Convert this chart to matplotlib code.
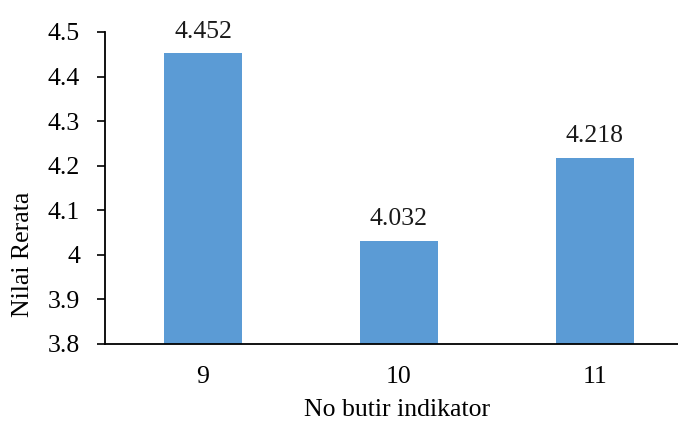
import matplotlib
matplotlib.use("Agg")
import matplotlib.pyplot as plt

categories = ["9", "10", "11"]
values = [4.452, 4.032, 4.218]
value_labels = ["4.452", "4.032", "4.218"]
y_ticks = [3.8, 3.9, 4.0, 4.1, 4.2, 4.3, 4.4, 4.5]
y_tick_labels = ["3.8", "3.9", "4", "4.1", "4.2", "4.3", "4.4", "4.5"]

plt.rcParams["font.family"] = ["Liberation Serif", "DejaVu Serif"]
FS = 18.5

W, H = 678, 425
fig = plt.figure(figsize=(W / 100, H / 100), dpi=100)
left, right, top, bottom = 105, 693, 32, 344
ax = fig.add_axes([left / W, 1 - bottom / H, (right - left) / W, (bottom - top) / H])

x = range(len(categories))
ax.bar(x, [v - 3.8 for v in values], bottom=3.8, width=0.4, color="#5B9BD5", zorder=2)
for xi, v, lab in zip(x, values, value_labels):
    ax.annotate(lab, (xi, v), xytext=(0, 11), textcoords="offset points",
                ha="center", va="baseline", fontsize=FS, color="#1a1a1a")

ax.set_xlim(-0.5, 2.5)
ax.set_ylim(3.8, 4.5)
ax.set_xticks(list(x))
ax.set_xticklabels(categories, fontsize=FS)
ax.set_yticks(y_ticks)
ax.set_yticklabels(y_tick_labels, fontsize=FS)
ax.tick_params(axis="x", length=0, pad=16)
ax.tick_params(axis="y", direction="out", length=6, width=1.2, pad=12)

for s in ["top", "right"]:
    ax.spines[s].set_visible(False)
for s in ["left", "bottom"]:
    ax.spines[s].set_linewidth(1.3)
    ax.spines[s].set_color("black")

fig.text(23 / W, 1 - 254 / H, "Nilai Rerata", rotation=90, ha="center", va="center", fontsize=FS)
fig.text(397 / W, 1 - 410 / H, "No butir indikator", ha="center", va="center", fontsize=FS)

fig.savefig("out.png", dpi=100)
